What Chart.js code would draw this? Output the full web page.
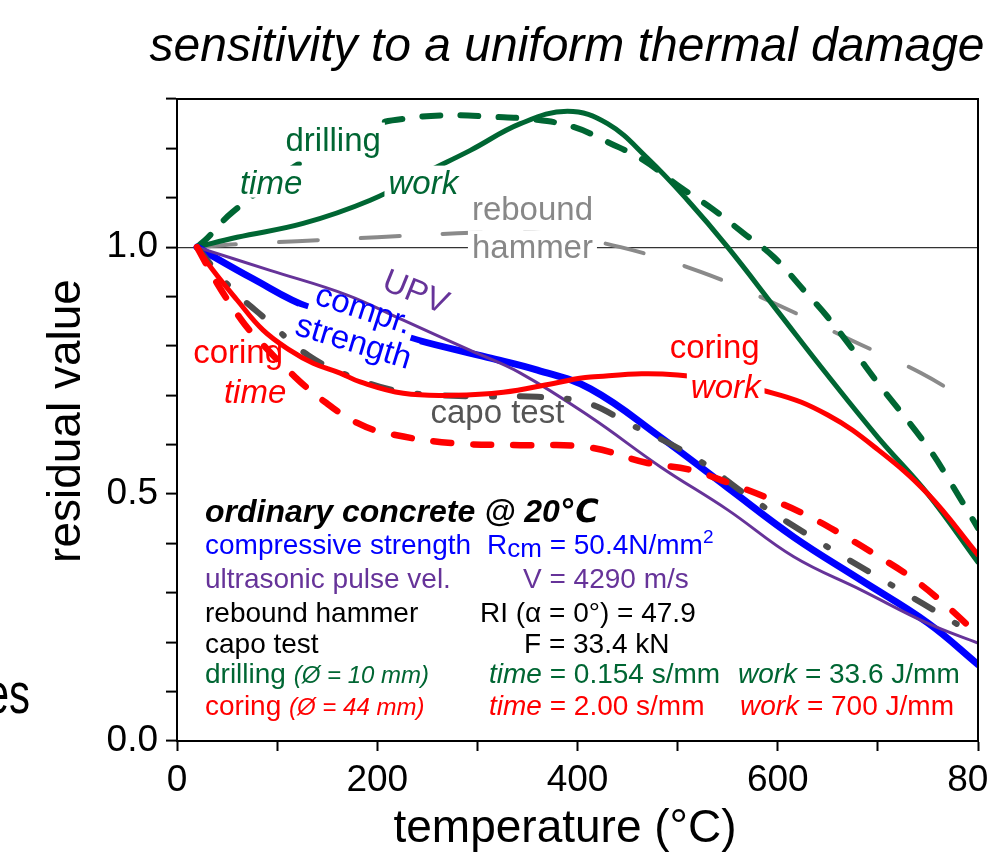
<!DOCTYPE html>
<html>
<head>
<meta charset="utf-8">
<script src="https://cdn.jsdelivr.net/npm/chart.js@4.4.1/dist/chart.umd.min.js"></script>
<style>
  html, body { margin: 0; padding: 0; background: #fff; }
  canvas { display: block; }
</style>
</head>
<body>
<canvas id="thermalChart" width="987" height="863"></canvas>
<script>
const FONT = "'Liberation Sans', Arial, 'DejaVu Sans', sans-serif";

// [temperature °C, residual value]
const comprStrength = [[20,1.0],[75,0.937],[133,0.877],[240,0.812],[310,0.777],[360,0.751],[413,0.713],[483,0.615],[550,0.513],[616,0.413],[683,0.326],[750,0.239],[800,0.155]];
const upv = [[20,1.0],[93,0.953],[170,0.903],[226,0.852],[293,0.791],[343,0.745],[413,0.656],[483,0.555],[550,0.468],[616,0.373],[683,0.306],[750,0.238],[800,0.198]];
const reboundHammer = [[20,1.0],[60,1.006],[100,1.01],[140,1.014],[200,1.02],[280,1.028],[326,1.03],[366,1.028],[443,1.0],[523,0.95],[596,0.887],[673,0.812],[743,0.745],[800,0.676]];
const capoTest = [[20,1.0],[53,0.919],[90,0.852],[131,0.781],[175,0.737],[226,0.707],[293,0.698],[360,0.697],[410,0.684],[450,0.644],[516,0.575],[576,0.488],[644,0.40],[711,0.319],[778,0.238],[800,0.21]];
const drillingTime = [[20,1.0],[31,1.02],[56,1.072],[121,1.168],[194,1.245],[235,1.262],[273,1.267],[313,1.264],[355,1.259],[395,1.244],[433,1.21],[466,1.176],[503,1.121],[533,1.08],[566,1.028],[596,0.98],[626,0.913],[650,0.858],[676,0.79],[700,0.725],[750,0.595],[773,0.522],[800,0.431]];
const drillingWork = [[20,1.0],[60,1.02],[126,1.048],[193,1.095],[253,1.156],[293,1.196],[343,1.25],[390,1.275],[430,1.25],[470,1.18],[510,1.095],[550,1.0],[600,0.87],[650,0.74],[700,0.615],[750,0.5],[800,0.362]];
const coringTime = [[20,1.0],[40,0.927],[61,0.862],[75,0.826],[118,0.737],[148,0.686],[180,0.644],[210,0.623],[276,0.603],[343,0.599],[410,0.595],[470,0.563],[513,0.549],[553,0.521],[590,0.492],[628,0.458],[665,0.417],[698,0.377],[732,0.333],[765,0.28],[800,0.215]];
const coringWork = [[20,1.0],[36,0.953],[60,0.893],[86,0.832],[113,0.791],[136,0.765],[163,0.745],[183,0.727],[226,0.704],[276,0.700],[326,0.706],[376,0.724],[413,0.737],[500,0.741],[596,0.704],[650,0.66],[700,0.59],[750,0.5],[800,0.377]];

const xTickLabels = [0, 200, 400, 600, 800];
const yTickLabels = [0, 0.5, 1.0];

const GREEN = '#006633', RED = '#ff0000', BLUE = '#0000ff', PURPLE = '#663399';

// curve labels, placed in data units; "gap" = series whose line is cut under the label
const curveLabels = [
  { text: 'drilling', t: 156, v: 1.214, color: GREEN, gap: 'drilling time' },
  { text: 'time', t: 94, v: 1.127, color: GREEN, italic: true, gap: 'drilling time' },
  { text: 'work', t: 246, v: 1.127, color: GREEN, italic: true, gap: 'drilling work' },
  { text: 'rebound', t: 355, v: 1.073, color: '#888888', gap: 'rebound hammer' },
  { text: 'hammer', t: 355, v: 0.996, color: '#888888', gap: 'rebound hammer' },
  { text: 'UPV', t: 238, v: 0.907, color: PURPLE, rot: 22 },
  { text: 'compr.', t: 186, v: 0.872, color: BLUE, rot: 18, gap: 'compressive strength' },
  { text: 'strength', t: 176, v: 0.806, color: BLUE, rot: 17, gap: 'compressive strength' },
  { text: 'coring', t: 61, v: 0.784, color: RED },
  { text: 'time', t: 78, v: 0.703, color: RED, italic: true },
  { text: 'capo test', t: 320, v: 0.663, color: '#555555' },
  { text: 'coring', t: 537, v: 0.794, color: RED, gap: 'coring work' },
  { text: 'work', t: 548, v: 0.714, color: RED, italic: true, gap: 'coring work' }
];

const N = `28px ${FONT}`, IT = `italic 28px ${FONT}`, SM = `italic 24px ${FONT}`;
const infoRows = [
  { color: BLUE, y: 554, left: [['compressive strength', N]], rx: 487,
    right: [['R', N], ['cm', `26px ${FONT}`, 3], [' = 50.4N/mm', N], ['2', `19px ${FONT}`, -11]] },
  { color: PURPLE, y: 588, left: [['ultrasonic pulse vel.', N]], rx: 523, right: [['V = 4290 m/s', N]] },
  { color: '#000', y: 622, left: [['rebound hammer', N]], rx: 480, right: [['RI (\u03b1 = 0\u00b0) = 47.9', N]] },
  { color: '#000', y: 653, left: [['capo test', N]], rx: 524, right: [['F = 33.4 kN', N]] },
  { color: GREEN, y: 683, left: [['drilling ', N], ['(\u00d8 = 10 mm)', SM]], rx: 489,
    right: [['time', IT], [' = 0.154 s/mm', N]], wx: 738, work: [['work', IT], [' = 33.6 J/mm', N]] },
  { color: RED, y: 715, left: [['coring ', N], ['(\u00d8 = 44 mm)', SM]], rx: 489,
    right: [['time', IT], [' = 2.00 s/mm', N]], wx: 740, work: [['work', IT], [' = 700 J/mm', N]] }
];

function pts(arr) { return arr.map(p => ({ x: p[0], y: p[1] })); }

function drawRuns(ctx, x, y, runs, color) {
  ctx.textAlign = 'left';
  ctx.textBaseline = 'alphabetic';
  ctx.fillStyle = color;
  runs.forEach(r => {
    ctx.font = r[1];
    ctx.fillText(r[0], x, y + (r[2] || 0));
    x += ctx.measureText(r[0]).width;
  });
}

function drawLabel(chart, l, erase) {
  const ctx = chart.ctx;
  const px = chart.scales.x.getPixelForValue(l.t);
  const py = chart.scales.y.getPixelForValue(l.v);
  ctx.save();
  ctx.translate(px, py);
  ctx.rotate((l.rot || 0) * Math.PI / 180);
  ctx.font = `${l.italic ? 'italic ' : ''}33px ${FONT}`;
  ctx.textAlign = 'center';
  ctx.textBaseline = 'middle';
  if (erase) {
    const m = ctx.measureText(l.text);
    const a = m.actualBoundingBoxAscent, d = m.actualBoundingBoxDescent;
    ctx.fillStyle = '#fff';
    ctx.fillRect(-m.width / 2 - 4, -a - 4, m.width + 8, a + d + 8);
  } else {
    ctx.fillStyle = l.color;
    ctx.fillText(l.text, 0, 0);
  }
  ctx.restore();
}

const textPlugin = {
  id: 'textPlugin',
  afterDatasetDraw(chart, args) {
    const name = chart.data.datasets[args.index].label;
    curveLabels.filter(l => l.gap === name).forEach(l => drawLabel(chart, l, true));
  },
  afterDatasetsDraw(chart) {
    const ctx = chart.ctx;
    const a = chart.chartArea;
    curveLabels.forEach(l => drawLabel(chart, l, false));

    // top and right frame
    ctx.save();
    ctx.strokeStyle = '#000';
    ctx.lineWidth = 2;
    ctx.beginPath();
    ctx.moveTo(a.left, a.top);
    ctx.lineTo(a.right, a.top);
    ctx.lineTo(a.right, a.bottom);
    ctx.stroke();

    // info block
    drawRuns(ctx, 205, 522, [['ordinary concrete @ 20\u2103', `italic bold 32px ${FONT}`]], '#000');
    infoRows.forEach(r => {
      drawRuns(ctx, 205, r.y, r.left, r.color);
      drawRuns(ctx, r.rx, r.y, r.right, r.color);
      if (r.work) drawRuns(ctx, r.wx, r.y, r.work, r.color);
    });

    // titles
    ctx.fillStyle = '#000';
    ctx.textAlign = 'center';
    ctx.textBaseline = 'alphabetic';
    ctx.font = `italic 48px ${FONT}`;
    ctx.fillText('sensitivity to a uniform thermal damage', 567, 61);
    ctx.font = `46px ${FONT}`;
    ctx.fillText('temperature (\u00b0C)', 565, 842);
    ctx.save();
    ctx.translate(80, 421);
    ctx.rotate(-Math.PI / 2);
    ctx.fillText('residual value', 0, 0);
    ctx.restore();
    // fragment of a neighbouring label cut by the left edge
    ctx.save();
    ctx.translate(30, 713);
    ctx.scale(1, 1.35);
    ctx.textAlign = 'right';
    ctx.font = `42px ${FONT}`;
    ctx.fillText('es', 0, 0);
    ctx.restore();
    ctx.restore();
  }
};

function line(label, data, color, width, dash) {
  return {
    label, data: pts(data), borderColor: color, borderWidth: width,
    borderDash: dash || [], borderCapStyle: 'round', borderJoinStyle: 'round',
    pointRadius: 0, fill: false, tension: 0.4
  };
}

const ctx = document.getElementById('thermalChart').getContext('2d');

const thermalChart = new Chart(ctx, {
  type: 'line',
  data: {
    datasets: [
      line('coring work', coringWork, RED, 5),
      line('coring time', coringTime, RED, 6.5, [18, 22]),
      line('capo test', capoTest, '#4d4d4d', 6, [21, 26, 2, 26]),
      line('ultrasonic pulse velocity', upv, PURPLE, 3),
      line('compressive strength', comprStrength, BLUE, 7),
      line('drilling work', drillingWork, GREEN, 5),
      line('drilling time', drillingTime, GREEN, 6, [18, 20]),
      line('rebound hammer', reboundHammer, '#8a8a8a', 4, [39, 43])
    ]
  },
  options: {
    responsive: false,
    animation: false,
    layout: { padding: { left: 0, right: 9, top: 99, bottom: 0 } },
    plugins: {
      legend: { display: false },
      tooltip: { enabled: false },
      title: { display: false }
    },
    scales: {
      x: {
        type: 'linear', min: 0, max: 800,
        ticks: {
          stepSize: 100, autoSkip: false, maxRotation: 0, padding: 8,
          color: '#000', font: { family: FONT, size: 37 },
          callback: v => xTickLabels.includes(v) ? String(v) : ''
        },
        grid: { drawOnChartArea: false, tickLength: 10, tickWidth: 2, tickColor: '#000' },
        border: { color: '#000', width: 2 },
        afterFit: s => { s.height = 122; s.paddingLeft = 0; s.paddingRight = 0; }
      },
      y: {
        type: 'linear', min: 0, max: 1.3,
        ticks: {
          stepSize: 0.1, autoSkip: false, padding: 8,
          color: '#000', font: { family: FONT, size: 37 },
          callback: v => yTickLabels.some(t => Math.abs(t - v) < 1e-6) ? v.toFixed(1) : ''
        },
        grid: {
          color: c => (c.tick && Math.abs(c.tick.value - 1) < 1e-6) ? '#333' : 'rgba(0,0,0,0)',
          lineWidth: 1.2, tickLength: 11, tickWidth: 2, tickColor: '#000'
        },
        border: { color: '#000', width: 2 },
        afterFit: s => { s.width = 177; s.paddingTop = 0; s.paddingBottom = 0; }
      }
    }
  },
  plugins: [textPlugin]
});
</script>
</body>
</html>
